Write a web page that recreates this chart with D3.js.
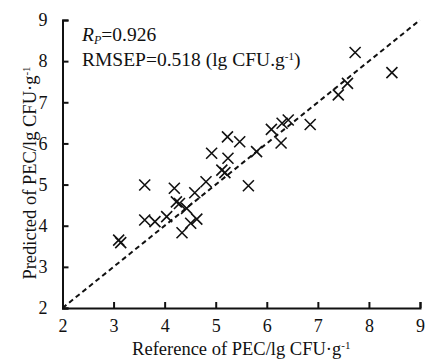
<!DOCTYPE html>
<html>
<head>
<meta charset="utf-8">
<script src="https://cdn.jsdelivr.net/npm/d3@7"></script>
<style>
  body { margin: 0; background: #fff; }
  svg { display: block; }
  text { font-family: "Liberation Serif", "Times New Roman", serif; fill: #111; }
</style>
</head>
<body>
<svg id="svg-main" width="427" height="363"></svg>
<script>
var reference = [3.10, 3.14, 3.61, 3.61, 3.81, 4.04, 4.19, 4.23, 4.29, 4.43, 4.34,
                 4.51, 4.63, 4.59, 4.81, 4.92, 5.12, 5.18, 5.23, 5.24, 5.47, 5.64,
                 5.80, 6.09, 6.28, 6.30, 6.42, 6.85, 7.40, 7.58, 7.73, 8.45];
var predicted = [3.65, 3.59, 4.99, 4.14, 4.10, 4.22, 4.91, 4.58, 4.54, 4.42, 3.83,
                 4.06, 4.16, 4.80, 5.07, 5.76, 5.35, 5.29, 6.16, 5.64, 6.04, 4.97,
                 5.80, 6.34, 6.01, 6.49, 6.57, 6.46, 7.18, 7.46, 8.21, 7.72];
var ticks = [2, 3, 4, 5, 6, 7, 8, 9];
var diagonal = [2, 9];

var plotLeft = 62.5, plotTop = 20, plotRight = 420, plotBottom = 308;
var svg = d3.select("#svg-main");

var x = d3.scaleLinear().domain([2, 9]).range([plotLeft, plotRight]);
var y = d3.scaleLinear().domain([2, 9]).range([plotBottom, plotTop]);

// axes, ticks pointing inward
var xAxis = svg.append("g")
    .attr("transform", "translate(0," + plotBottom + ")")
    .call(d3.axisBottom(x).tickValues(ticks).tickSize(-6).tickPadding(14).tickFormat(d3.format("d")));
var yAxis = svg.append("g")
    .attr("transform", "translate(" + plotLeft + ",0)")
    .call(d3.axisLeft(y).tickValues(ticks).tickSize(-6).tickPadding(15).tickFormat(d3.format("d")));

[xAxis, yAxis].forEach(function(g) {
    g.select(".domain").attr("stroke", "#111").attr("stroke-width", 2);
    g.selectAll(".tick line").attr("stroke", "#111").attr("stroke-width", 2);
    g.selectAll(".tick text")
      .attr("font-family", "Liberation Serif")
      .style("font-size", "18px")
      .attr("fill", "#111");
});
xAxis.selectAll(".tick text").attr("dy", "0.55em");

// 1:1 line
svg.append("line")
  .attr("x1", x(diagonal[0]))
  .attr("y1", y(diagonal[0]))
  .attr("x2", x(diagonal[1]))
  .attr("y2", y(diagonal[1]))
  .attr("stroke", "#111")
  .attr("stroke-width", 2)
  .attr("stroke-dasharray", "5,3.5");

// cross markers
var s = 5.5;
svg.append("g").selectAll("path")
  .data(reference)
  .enter()
  .append("path")
  .attr("d", function(d, i) {
      var cx = x(d), cy = y(predicted[i]);
      return "M" + (cx - s) + "," + (cy - s) + "L" + (cx + s) + "," + (cy + s) +
             "M" + (cx - s) + "," + (cy + s) + "L" + (cx + s) + "," + (cy - s);
  })
  .attr("stroke", "#111")
  .attr("stroke-width", 1.6)
  .attr("fill", "none");

// annotation
var t1 = svg.append("text")
  .attr("x", 82)
  .attr("y", 41)
  .style("font-size", "19.5px");
t1.append("tspan").attr("font-style", "italic").text("R");
t1.append("tspan").attr("font-style", "italic").attr("baseline-shift", "-25%").style("font-size", "12px").text("P");
t1.append("tspan").text("=0.926");

var t2 = svg.append("text")
  .attr("x", 82)
  .attr("y", 65.5)
  .style("font-size", "19.5px");
t2.append("tspan").text("RMSEP=0.518 (lg CFU.g");
t2.append("tspan").attr("baseline-shift", "super").style("font-size", "11px").text("-1");
t2.append("tspan").text(")");

// axis titles
var xl = svg.append("text")
  .attr("x", (plotLeft + plotRight) / 2)
  .attr("y", 355)
  .attr("text-anchor", "middle")
  .style("font-size", "18.5px");
xl.append("tspan").text("Reference of PEC/lg CFU\u00b7g");
xl.append("tspan").attr("baseline-shift", "super").style("font-size", "11px").text("-1");

var yl = svg.append("text")
  .attr("transform", "translate(36,173) rotate(-90)")
  .attr("text-anchor", "middle")
  .style("font-size", "18.5px");
yl.append("tspan").text("Predicted of PEC/lg CFU\u00b7g");
yl.append("tspan").attr("baseline-shift", "super").style("font-size", "11px").text("-1");
</script>
</body>
</html>
